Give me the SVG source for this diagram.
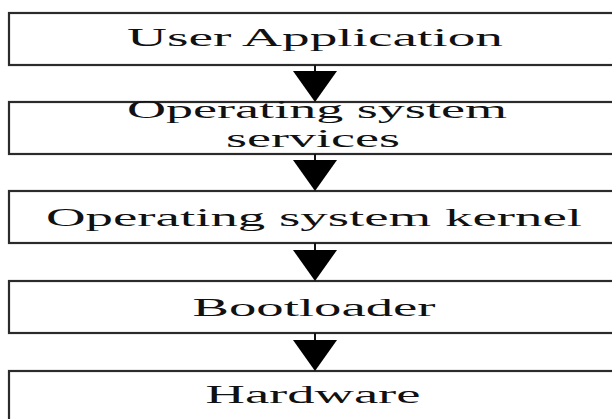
<svg xmlns="http://www.w3.org/2000/svg" width="612" height="419" viewBox="0 0 612 419">
  <style>
    .box { fill: #ffffff; stroke: #2b2b2b; stroke-width: 2.2; }
    .label { font-family: "Liberation Serif", "Times New Roman", serif; font-size: 26px; fill: #111111; text-anchor: middle; }
    .stem { stroke: #111111; stroke-width: 2; }
    .head { fill: #000000; }
  </style>
  <rect width="612" height="419" fill="#ffffff"/>

  <g id="user-application">
    <rect class="box" x="9" y="13" width="615" height="52"/>
    <text class="label" x="315" y="46" textLength="376" lengthAdjust="spacingAndGlyphs">User Application</text>
  </g>

  <g id="os-services">
    <rect class="box" x="9" y="102" width="615" height="52"/>
    <text class="label" x="317" y="118" textLength="380" lengthAdjust="spacingAndGlyphs">Operating system</text>
    <text class="label" x="313" y="147" textLength="174" lengthAdjust="spacingAndGlyphs">services</text>
  </g>

  <g id="os-kernel">
    <rect class="box" x="9" y="191" width="615" height="52"/>
    <text class="label" x="314" y="226" textLength="536" lengthAdjust="spacingAndGlyphs">Operating system kernel</text>
  </g>

  <g id="bootloader">
    <rect class="box" x="9" y="281" width="615" height="52"/>
    <text class="label" x="314" y="316" textLength="243" lengthAdjust="spacingAndGlyphs">Bootloader</text>
  </g>

  <g id="hardware">
    <rect class="box" x="9" y="371" width="615" height="60"/>
    <text class="label" x="313" y="403" textLength="215" lengthAdjust="spacingAndGlyphs">Hardware</text>
  </g>

  <g id="connectors">
    <line class="stem" x1="315" y1="65" x2="315" y2="72"/>
    <polygon class="head" points="293,71 337,71 315,102"/>
    <line class="stem" x1="315" y1="154" x2="315" y2="161"/>
    <polygon class="head" points="293,160 337,160 315,191"/>
    <line class="stem" x1="315" y1="243" x2="315" y2="251"/>
    <polygon class="head" points="293,250 337,250 315,281"/>
    <line class="stem" x1="315" y1="333" x2="315" y2="341"/>
    <polygon class="head" points="293,340 337,340 315,371"/>
  </g>
</svg>
